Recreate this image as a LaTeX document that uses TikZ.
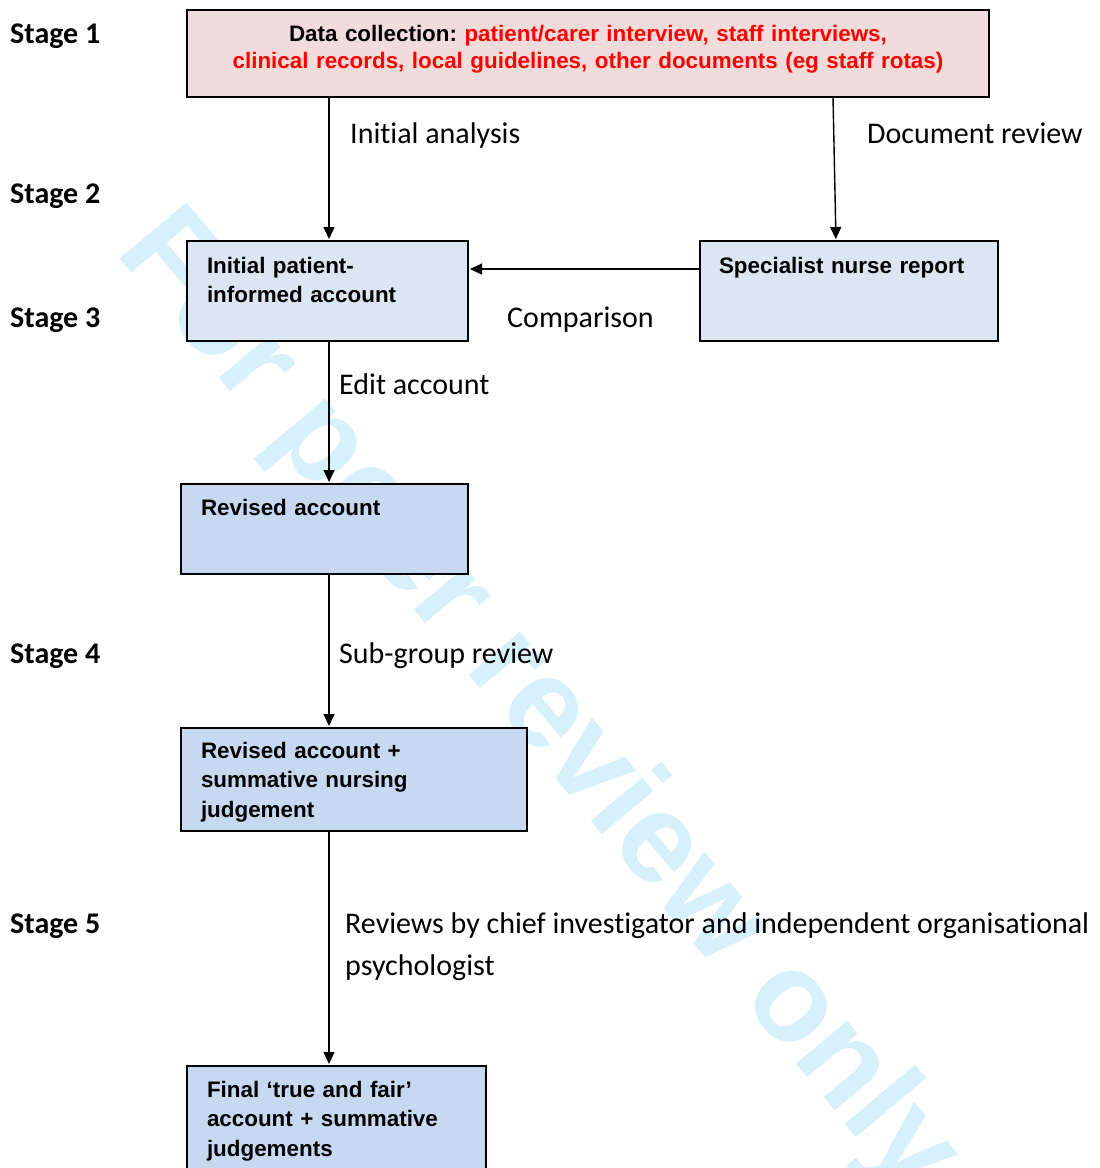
\documentclass[tikz,border=0pt]{standalone}
\usepackage{fontspec}
\setmainfont{Carlito}[Ligatures=NoCommon]
\newfontfamily\arialfont{Liberation Sans}
\usetikzlibrary{arrows.meta}
\frenchspacing

\definecolor{collectfill}{RGB}{242,220,219}
\definecolor{accountfill}{RGB}{220,230,242}
\definecolor{revisedfill}{RGB}{198,217,241}
\definecolor{watermark}{RGB}{214,240,252}

\tikzset{
  box/.style={draw=black, line width=1.5pt, anchor=north west, outer sep=0pt,
    inner ysep=0pt, inner xsep=20pt, align=left,
    font=\arialfont\bfseries\fontsize{22.4}{29.5}\selectfont},
  flow/.style={line width=1.4pt, -{Triangle[length=12pt,width=11pt]}, shorten >=2pt},
  lbl/.style={anchor=base west, inner sep=0pt, align=left,
    font=\fontsize{30}{42}\selectfont},
  stagelbl/.style={lbl, font=\bfseries\fontsize{30}{36}\selectfont}
}

\begin{document}
\begin{tikzpicture}[x=1pt,y=-1pt]
\clip (0,0) rectangle (1100,1168);
% watermark behind everything
\node[text=watermark, font=\arialfont\bfseries\fontsize{127}{127}\selectfont,
  rotate=-50, anchor=base west, inner sep=0pt] (wm) at (114,252) {For peer review only};

\foreach \n/\y in {1/43.5,2/203.5,3/327.5,4/663.5,5/933.5}
  \node[stagelbl] (stage\n) at (10,\y) {Stage \n};

% boxes
\node[box, fill=collectfill, inner xsep=0pt, align=center, text width=802pt,
  text height=31pt, text depth=56pt,
  font=\arialfont\bfseries\fontsize{22.4}{27}\selectfont] (collect) at (187,10)
  {Data collection: \textcolor{red}{patient/carer interview, staff interviews,}\\
   \textcolor{red}{clinical records, local guidelines, other documents (eg staff rotas)}};
\node[box, fill=accountfill, text width=241pt, text height=32pt, text depth=68pt]
  (initial) at (187,241) {Initial patient-\\informed account};
\node[box, fill=accountfill, inner xsep=19pt, text width=260pt, text height=32pt,
  text depth=68pt] (specialist) at (700,241) {Specialist nurse report};
\node[box, fill=revisedfill, text width=247pt, text height=31pt, text depth=59pt]
  (revised) at (181,484) {Revised account};
\node[box, fill=revisedfill, text width=306pt, text height=30pt, text depth=73pt]
  (judgement) at (181,728) {Revised account +\\summative nursing\\judgement};
\node[box, fill=revisedfill, text width=259pt, text height=31pt, text depth=89pt]
  (final) at (187,1066) {Final ‘true and fair’\\account + summative\\judgements};

% connectors
\coordinate (col) at (329,0);
\draw[flow] (collect.south -| col) -- (initial.north -| col);
\draw[flow] ([xshift=-16pt]specialist.north |- collect.south) -- ([xshift=-13pt]specialist.north);
\draw[flow] ([yshift=-28pt]specialist.north west) -- ([yshift=-28pt]initial.north east);
\draw[flow] (initial.south -| col) -- (revised.north -| col);
\draw[flow] (revised.south -| col) -- (judgement.north -| col);
\draw[flow] (judgement.south -| col) -- (final.north -| col);

% connector labels
\node[lbl] (analysis) at (350,143) {Initial analysis};
\node[lbl] (docreview) at (867,143) {Document review};
\node[lbl] (comparison) at (507,327.5) {Comparison};
\node[lbl] (edit) at (339,394.5) {Edit account};
\node[lbl] (subgroup) at (339,663.5) {Sub-group review};
% base of a two-line node is its last line
\node[lbl] (reviews) at (345,975.5) {Reviews by chief investigator and independent organisational\\psychologist};
\end{tikzpicture}
\end{document}
